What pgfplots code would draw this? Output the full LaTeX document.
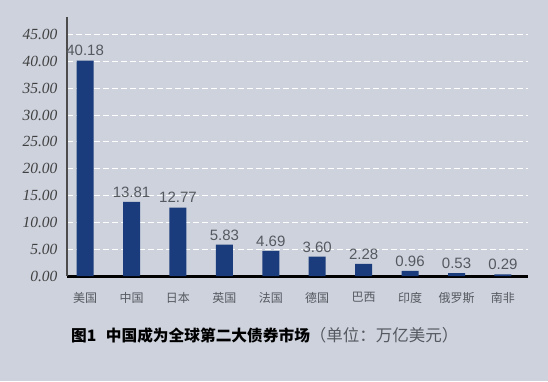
\documentclass[border=0pt]{standalone}
\usepackage{pgfplots}
\pgfplotsset{compat=1.18}
\usepackage{fontspec}
\setmainfont{Liberation Sans}
\newfontfamily\cjk{Noto Sans CJK SC}
\newfontfamily\tickfont{Liberation Serif}
\definecolor{bg}{HTML}{CDD2DD}
\definecolor{bar}{HTML}{1B3C7C}
\definecolor{lbl}{HTML}{555A60}
\begin{document}
\begin{tikzpicture}[x=1pt,y=1pt]
\fill[bg] (0,0) rectangle (548,381);
\begin{axis}[
  at={(67pt,105pt)}, anchor=south west,
  scale only axis, width=461pt, height=259pt,
  xmin=-0.39, xmax=9.54, ymin=0, ymax=48.3,
  axis x line*=bottom, axis y line*=left,
  x axis line style={line width=3pt, black, -},
  y axis line style={line width=1.2pt, black!70, -},
  xtick={0,...,9},
  xticklabels={美国,中国,日本,英国,法国,德国,巴西,印度,俄罗斯,南非},
  xticklabel style={font=\cjk\fontsize{12}{12}\selectfont, text=lbl, yshift=-13pt},
  ytick={0,5,...,45},
  yticklabel={\tickfont\itshape\fontsize{15.5}{15.5}\selectfont\pgfmathprintnumber[fixed,fixed zerofill,precision=2,assume math mode=true]{\tick}},
  yticklabel style={text=black!75, xshift=-6pt},
  major tick length=0pt,
  ymajorgrids,
  grid style={white, line width=1pt, dash pattern=on 6pt off 3pt},
  clip=false,
]
\addplot[ybar, bar width=17pt, fill=bar, draw=none,
  nodes near coords={\pgfmathprintnumber[fixed,fixed zerofill,precision=2,assume math mode=true]{\pgfplotspointmeta}},
  every node near coord/.append style={font=\fontsize{15}{15}\selectfont, text=lbl, yshift=1pt},
] coordinates {
(0,40.18) (1,13.81) (2,12.77) (3,5.83) (4,4.69) (5,3.60) (6,2.28) (7,0.96) (8,0.53) (9,0.29)};
\end{axis}
\node[anchor=west, inner sep=0pt] at (71,46) {\cjk\fontsize{15.7}{15.7}\selectfont\bfseries 图1\hspace{0.6em}中国成为全球第二大债券市场\mdseries\color{lbl}\fontsize{16.5}{16.5}\selectfont（单位：万亿美元）};
\pgfresetboundingbox
\useasboundingbox (0,0) rectangle (548,381);
\end{tikzpicture}
\end{document}
